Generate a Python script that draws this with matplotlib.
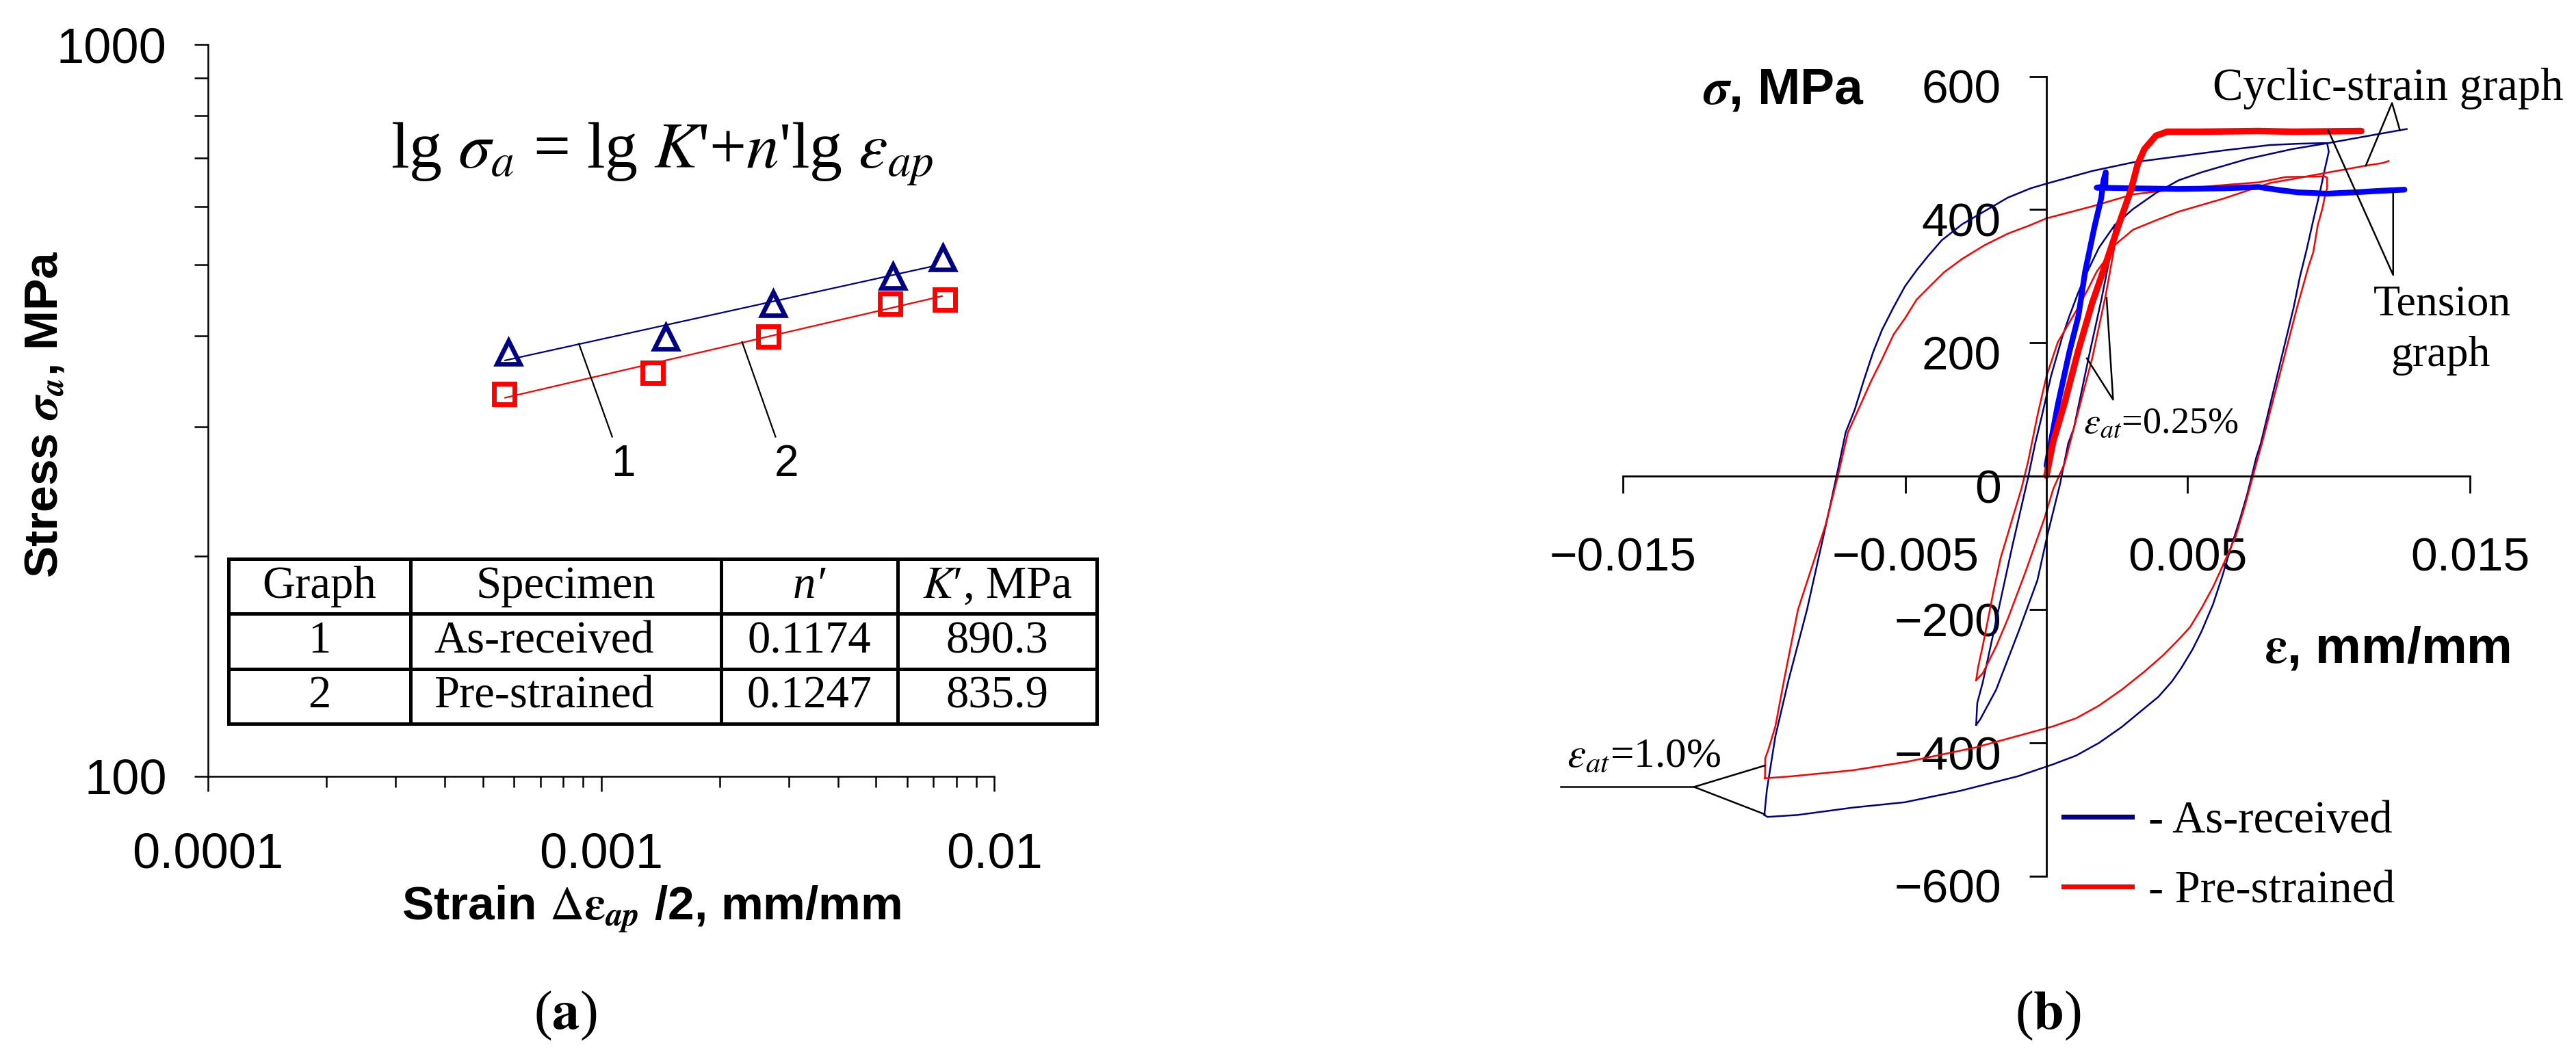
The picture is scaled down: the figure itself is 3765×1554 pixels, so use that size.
import matplotlib
matplotlib.use('Agg')
import matplotlib.pyplot as plt
import matplotlib.transforms as mtransforms
from matplotlib.table import Table
from matplotlib.lines import Line2D
from matplotlib.ticker import FixedLocator, FixedFormatter, LogLocator, NullFormatter

plt.rcParams['font.family'] = ['Liberation Sans', 'DejaVu Sans']
plt.rcParams['mathtext.fontset'] = 'stix'

NAVY = '#000080'
BLUE = '#0000FF'
RED = '#FF0000'
SERIF = ['Liberation Serif', 'DejaVu Serif']

# ---------------- panel (a) data ----------------
strain_as_received = [5.81e-4, 1.46e-3, 2.74e-3, 5.51e-3, 7.38e-3]
stress_as_received = [380, 398, 442, 482, 511]
strain_pre_strained = [5.68e-4, 1.355e-3, 2.66e-3, 5.44e-3, 7.47e-3]
stress_pre_strained = [333, 356, 399, 442, 448]
fit1_strain = [5.7e-4, 6.9e-3]
fit1_stress = [370, 497]
fit2_strain = [5.7e-4, 7.36e-3]
fit2_stress = [329, 453]

a_xticks = [1e-4, 1e-3, 1e-2]
a_xticklabels = ['0.0001', '0.001', '0.01']
a_yticks = [100, 1000]
a_yticklabels = ['100', '1000']

table_header = ['Graph', 'Specimen', 'n\u2032', '$K$\u2032, MPa']
table_graph = ['1', '2']
table_specimen = ['As-received', 'Pre-strained']
table_n = ['0.1174', '0.1247']
table_K = ['890.3', '835.9']

lead1_x = [8.78e-4, 1.067e-3]
lead1_y = [390, 291]
lead2_x = [2.283e-3, 2.776e-3]
lead2_y = [392, 291]

# ---------------- panel (b) data ----------------
blue_loop_strain = [-0.00999, -0.00990, -0.00960, -0.00913, -0.00848, -0.00783, -0.00743, -0.00711,
                    -0.00679, -0.00646, -0.00614, -0.00582, -0.00541, -0.00501, -0.00460, -0.00420,
                    -0.00371, -0.00299, -0.00218, -0.00137, -0.00056, 0.00000, 0.00162, 0.00307,
                    0.00468, 0.00630, 0.00792, 0.00897, 0.00994, 0.01000, 0.00985, 0.00970,
                    0.00945, 0.00921, 0.00897, 0.00876, 0.00759, 0.00743, 0.00727, 0.00711,
                    0.00687, 0.00654, 0.00622, 0.00590, 0.00549, 0.00517, 0.00477, 0.00444,
                    0.00396, 0.00347, 0.00267, 0.00186, 0.00105, 0.00024, -0.00101, -0.00307,
                    -0.00502, -0.00686, -0.00880, -0.00988, -0.00999]
blue_loop_stress = [-508, -470, -390, -305, -200, -77, 1, 66,
                    100, 145, 186, 220, 254, 285, 309, 330,
                    354, 378, 398, 418, 432, 439, 458, 471,
                    480, 489, 497, 499, 500, 487, 459, 429,
                    384, 339, 298, 254, 49, 28, 0, -27,
                    -62, -106, -151, -192, -233, -260, -288, -308,
                    -331, -348, -376, -400, -419, -432, -450, -472,
                    -489, -497, -508, -511, -508]

red_loop_strain = [-0.00997, -0.00996, -0.00985, -0.00960, -0.00929, -0.00880, -0.00783, -0.00739,
                   -0.00703, -0.00662, -0.00622, -0.00582, -0.00541, -0.00501, -0.00460, -0.00420,
                   -0.00363, -0.00299, -0.00218, -0.00137, -0.00056, 0.00000, 0.00162, 0.00307,
                   0.00468, 0.00630, 0.00751, 0.00848, 0.00985, 0.00994, 0.00994, 0.00985,
                   0.00977, 0.00961, 0.00945, 0.00929, 0.00888, 0.00763, 0.00751, 0.00731,
                   0.00703, 0.00671, 0.00630, 0.00590, 0.00549, 0.00509, 0.00468, 0.00412,
                   0.00347, 0.00267, 0.00186, 0.00105, 0.00024, -0.00253, -0.00491, -0.00686,
                   -0.00902, -0.00997]
red_loop_stress = [-453, -423, -410, -375, -305, -200, -74, 0,
                   66, 104, 142, 176, 213, 237, 265, 282,
                   306, 326, 347, 364, 377, 387, 405, 423,
                   431, 437, 441, 449, 450, 448, 432, 418,
                   401, 377, 336, 316, 254, 49, 31, 0,
                   -44, -89, -129, -166, -198, -226, -245, -269,
                   -293, -320, -344, -363, -375, -407, -428, -441,
                   -450, -453]

blue_small_strain = [-0.00249, -0.00245, -0.00226, -0.00182, -0.00121, -0.00065, -0.00040, -0.00016,
                     0.00016, 0.00056, 0.00081, 0.00113, 0.00145, 0.00186, 0.00242, 0.00230,
                     0.00194, 0.00153, 0.00097, 0.00077, 0.00048, 0.00004, -0.00032, -0.00097,
                     -0.00178, -0.00235, -0.00249]
blue_small_stress = [-373, -340, -310, -224, -105, -2, 49, 91,
                     150, 209, 240, 276, 307, 343, 377, 340,
                     264, 185, 72, 49, -12, -87, -156, -231,
                     -320, -365, -373]

red_small_strain = [-0.00249, -0.00242, -0.00226, -0.00210, -0.00186, -0.00162, -0.00137, -0.00121,
                    -0.00089, -0.00065, -0.00032, 0.00000, 0.00040, 0.00105, 0.00145, 0.00178,
                    0.00226, 0.00242, 0.00210, 0.00162, 0.00097, 0.00065, 0.00024, -0.00008,
                    -0.00073, -0.00137, -0.00178, -0.00225, -0.00249]
red_small_stress = [-306, -286, -255, -221, -169, -122, -87, -64,
                    -19, 22, 91, 150, 201, 248, 279, 307,
                    335, 347, 272, 177, 72, 20, -19, -64,
                    -142, -214, -255, -295, -306]

blue_cyclic_strain = [0.00242, 0.00307, 0.00388, 0.00468, 0.00549, 0.00630, 0.00711, 0.00872,
                      0.01000, 0.01131, 0.01276]
blue_cyclic_stress = [377, 401, 425, 444, 456, 466, 476, 491, 500, 510, 521]
red_cyclic_strain = [0.00242, 0.00307, 0.00388, 0.00468, 0.00630, 0.00792, 0.00872, 0.01000,
                     0.01131, 0.01191, 0.01212]
red_cyclic_stress = [347, 370, 384, 397, 417, 440, 446, 456, 466, 470, 473]

blue_tension_strain = [0.0, 0.0004, 0.00081, 0.00113, 0.00137, 0.0017, 0.00194, 0.00202, 0.0021,
                       0.00208, 0.00178, 0.00307, 0.00468, 0.0063, 0.00751, 0.00832, 0.0089,
                       0.00994, 0.01091, 0.01172, 0.01268]
blue_tension_stress = [16, 107, 186, 240, 307, 374, 417, 444, 456,
                       435, 433, 432, 431, 432, 434, 429, 426,
                       424, 426, 428, 430]
red_tension_strain = [0.0, 0.00024, 0.00065, 0.00113, 0.00162, 0.0021, 0.00259, 0.00299,
                      0.00323, 0.00347, 0.00388, 0.00428, 0.00549, 0.00751, 0.00872, 0.01115]
red_tension_stress = [1, 52, 111, 189, 260, 319, 381, 429,
                      468, 491, 511, 517, 517, 518, 517, 518]

b_xticks = [-0.015, -0.005, 0.005, 0.015]
b_xticklabels = ['\u22120.015', '\u22120.005', '0.005', '0.015']
b_yticks = [-600, -400, -200, 0, 200, 400, 600]
b_yticklabels = ['\u2212600', '\u2212400', '\u2212200', '0', '200', '400', '600']

ann025_x = [0.00213, 0.00236, 0.00143]
ann025_y = [268, 115, 177]
ann10_x = [-0.00998, -0.01248, -0.00998]
ann10_y = [-434, -466, -507]
ann10h_x = [-0.0172, -0.01248]
ann10h_y = [-466, -466]
ann_cyc_x = [0.01131, 0.01224, 0.01252]
ann_cyc_y = [466, 560, 519]
ann_ten_x = [0.00998, 0.01228, 0.01228]
ann_ten_y = [519, 302, 427]

# ---------------- figure ----------------
W, H, DPI = 3766, 1554, 200
fig = plt.figure(figsize=(W / DPI, H / DPI), dpi=DPI)

# ===== panel (a) =====
ax1 = fig.add_axes([0.08064, 0.26982, 0.30529, 0.68835])
ax1.set_xscale('log')
ax1.set_yscale('log')
ax1.set_xlim(1e-4, 1e-2)
ax1.set_ylim(100, 1000)
for s in ['top', 'right']:
    ax1.spines[s].set_visible(False)
for s in ['left', 'bottom']:
    ax1.spines[s].set_linewidth(0.9)
ax1.xaxis.set_major_locator(FixedLocator(a_xticks))
ax1.xaxis.set_major_formatter(FixedFormatter(a_xticklabels))
ax1.xaxis.set_minor_locator(LogLocator(base=10, subs=range(2, 10), numticks=20))
ax1.xaxis.set_minor_formatter(NullFormatter())
ax1.yaxis.set_major_locator(FixedLocator(a_yticks))
ax1.yaxis.set_major_formatter(FixedFormatter(a_yticklabels))
ax1.yaxis.set_minor_locator(LogLocator(base=10, subs=range(2, 10), numticks=20))
ax1.yaxis.set_minor_formatter(NullFormatter())
ax1.tick_params(axis='x', which='major', length=7.9, width=0.9, pad=21.6, labelsize=26)
ax1.tick_params(axis='x', which='minor', length=5.8, width=0.9)
ax1.tick_params(axis='y', which='major', length=7.2, width=0.9, pad=14.4, labelsize=26)
ax1.tick_params(axis='y', which='minor', length=7.2, width=0.9)

ax1.plot(fit1_strain, fit1_stress, color=NAVY, lw=0.8)
ax1.plot(fit2_strain, fit2_stress, color=RED, lw=0.8)
ax1.plot(strain_as_received, stress_as_received, ls='none', marker='^', ms=12,
         mfc='none', mec=NAVY, mew=2.4)
ax1.plot(strain_pre_strained, stress_pre_strained, ls='none', marker='s', ms=11,
         mfc='none', mec=RED, mew=2.5)
ax1.plot(lead1_x, lead1_y, color='black', lw=0.8)
ax1.plot(lead2_x, lead2_y, color='black', lw=0.8)
ax1.text(1.139e-3, 266.7, '1', fontsize=23, ha='center', va='center')
ax1.text(2.962e-3, 266.7, '2', fontsize=23, ha='center', va='center')

ax1.text(0.578, 0.8317,
         "lg $\\sigma_a$ = lg $K$'+$n$'lg $\\varepsilon_{ap}$",
         transform=ax1.transAxes, family=SERIF, fontsize=34.5, ha='center', va='baseline')

ax1.set_ylabel(r'Stress $\boldsymbol{\sigma}_{\boldsymbol{a}}$, MPa', fontsize=25, fontweight='bold')
ax1.yaxis.label.set_va('center')
ax1.yaxis.set_label_coords(-0.2076, 0.4943)
ax1.set_xlabel(r'Strain $\Delta\boldsymbol{\varepsilon}_{\boldsymbol{ap}}$ /2, mm/mm',
               fontsize=25, fontweight='bold')
ax1.xaxis.label.set_va('baseline')
ax1.xaxis.set_label_coords(0.5639, -0.1966)

# table
col_w = [266, 454, 258, 291]
tbl = Table(ax1, bbox=[0.0264, 0.0717, 1.1037, 0.2253])
rows = [table_header,
        [table_graph[0], table_specimen[0], table_n[0], table_K[0]],
        [table_graph[1], table_specimen[1], table_n[1], table_K[1]]]
for r, row in enumerate(rows):
    for c, txt in enumerate(row):
        loc = 'left' if (c == 1 and r > 0) else 'center'
        cell = tbl.add_cell(r, c, width=col_w[c], height=80, text=txt, loc=loc,
                            facecolor='white', edgecolor='black')
        cell.set_linewidth(1.8)
        if loc == 'left':
            cell.PAD = 0.075
        t = cell.get_text()
        t.set_fontfamily(SERIF)
        t.set_fontsize(24)
        if r == 0 and c == 2:
            t.set_fontstyle('italic')
tbl.auto_set_font_size(False)
ax1.add_table(tbl)

# ===== panel (b) =====
ax2 = fig.add_axes([0.62985, 0.17568, 0.32873, 0.75251])
ax2.set_xlim(-0.015, 0.015)
ax2.set_ylim(-600, 600)
for s in ['top', 'right']:
    ax2.spines[s].set_visible(False)
ax2.spines['left'].set_position(('data', 0))
ax2.spines['bottom'].set_position(('data', 0))
for s in ['left', 'bottom']:
    ax2.spines[s].set_linewidth(1.0)
ax2.xaxis.set_major_locator(FixedLocator(b_xticks))
ax2.xaxis.set_major_formatter(FixedFormatter(b_xticklabels))
ax2.yaxis.set_major_locator(FixedLocator(b_yticks))
ax2.yaxis.set_major_formatter(FixedFormatter(b_yticklabels))
ax2.tick_params(axis='x', length=9, width=1.0, pad=22.7, labelsize=25, direction='out')
ax2.tick_params(axis='y', length=9, width=1.0, pad=14.8, labelsize=25, direction='out')

ax2.plot(blue_loop_strain, blue_loop_stress, color=NAVY, lw=0.9, clip_on=False)
ax2.plot(red_loop_strain, red_loop_stress, color=RED, lw=0.9, clip_on=False)
ax2.plot(blue_small_strain, blue_small_stress, color=NAVY, lw=0.9)
ax2.plot(red_small_strain, red_small_stress, color=RED, lw=0.9)
ax2.plot(blue_cyclic_strain, blue_cyclic_stress, color=NAVY, lw=0.9)
ax2.plot(red_cyclic_strain, red_cyclic_stress, color=RED, lw=0.9)
ax2.plot(blue_tension_strain, blue_tension_stress, color=BLUE, lw=3.0, solid_capstyle='round')
ax2.plot(red_tension_strain, red_tension_stress, color=RED, lw=3.4, solid_capstyle='round')

for xs, ys in [(ann025_x, ann025_y), (ann10_x, ann10_y), (ann10h_x, ann10h_y),
               (ann_cyc_x, ann_cyc_y), (ann_ten_x, ann_ten_y)]:
    ax2.plot(xs, ys, color='black', lw=0.9, clip_on=False)

ax2.text(0.01209, 565, 'Cyclic-strain graph', family=SERIF, fontsize=24, ha='center', va='baseline')
ax2.text(0.01403, 241.5, 'Tension', family=SERIF, fontsize=23, ha='center', va='baseline')
ax2.text(0.01396, 166, 'graph', family=SERIF, fontsize=23, ha='center', va='baseline')
ax2.text(0.00131, 65.6, r'$\varepsilon_{at}$=0.25%', family=SERIF, fontsize=19.5, ha='left', va='baseline')
ax2.text(-0.01699, -436, r'$\varepsilon_{at}$=1.0%', family=SERIF, fontsize=22, ha='left',
         va='baseline', clip_on=False)

ax2.set_ylabel(r'$\boldsymbol{\sigma}$, MPa', fontsize=27, fontweight='bold', rotation=0)
ax2.yaxis.label.set_ha('center')
ax2.yaxis.label.set_va('baseline')
ax2.yaxis.set_label_coords(0.1898, 0.9655)
ax2.set_xlabel(r'$\boldsymbol{\varepsilon}$, mm/mm', fontsize=27, fontweight='bold')
ax2.xaxis.label.set_ha('center')
ax2.xaxis.label.set_va('baseline')
ax2.xaxis.set_label_coords(0.9023, 0.2668)

handles = [Line2D([], [], color=NAVY, lw=2.6), Line2D([], [], color=RED, lw=2.6)]
ax2.legend(handles, ['- As-received', '- Pre-strained'], loc='upper left',
           bbox_to_anchor=(3016 / W, 1 - 1170 / H), bbox_transform=fig.transFigure,
           frameon=False, prop={'family': SERIF, 'size': 24}, handlelength=1.5,
           handletextpad=0.36, labelspacing=0.62, borderpad=0, borderaxespad=0)

# shift y tick labels slightly down as in the original
off = mtransforms.ScaledTranslation(0, -14 / DPI, fig.dpi_scale_trans)
for lab in ax2.get_yticklabels():
    lab.set_transform(lab.get_transform() + off)

# panel captions
fig.text(826 / W, 1 - 1485 / H, r'($\mathbf{a}$)', family=SERIF, fontsize=29, ha='center', va='center')
fig.text(2993 / W, 1 - 1485 / H, r'($\mathbf{b}$)', family=SERIF, fontsize=29, ha='center', va='center')

fig.savefig('out.png', dpi=DPI)
